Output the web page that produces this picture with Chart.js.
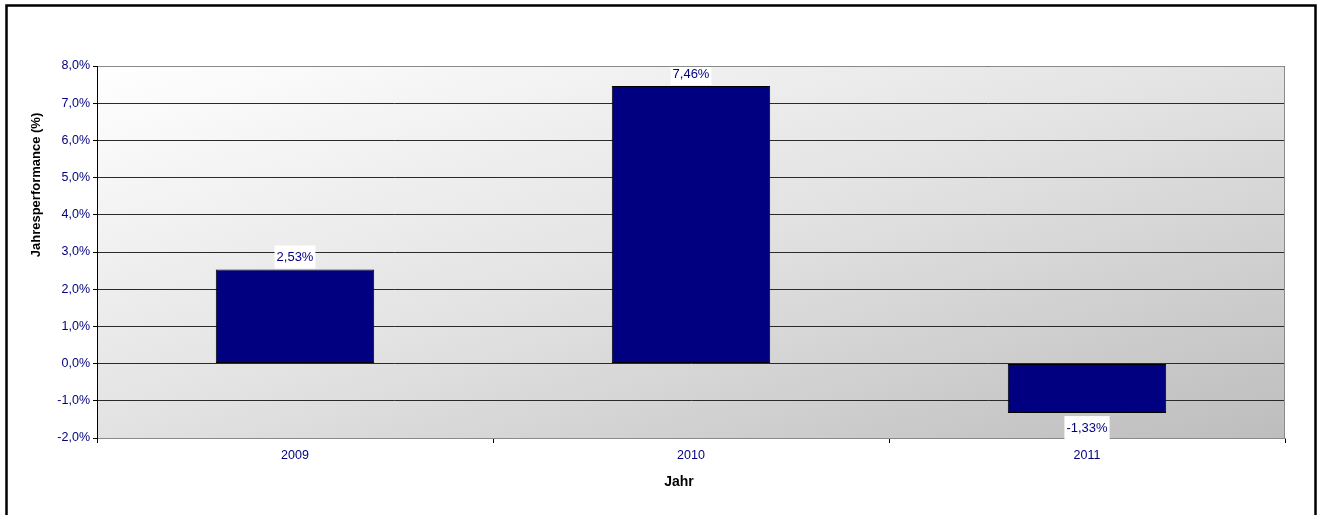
<!DOCTYPE html>
<html>
<head>
<meta charset="utf-8">
<script src="https://cdn.jsdelivr.net/npm/chart.js@4.4.1/dist/chart.umd.min.js"></script>
<style>
	html, body { margin: 0; padding: 0; background: #fff; }
	#wrap { width: 1317px; height: 515px; position: relative; }
</style>
</head>
<body>
<div id="wrap"><canvas id="perf-chart" width="1317" height="515"></canvas></div>
<script>
// Data.
var years = ["2009", "2010", "2011"];
var performance = [2.53, 7.46, -1.33];
var yTickLabels = ["-2,0%", "-1,0%", "0,0%", "1,0%", "2,0%", "3,0%", "4,0%", "5,0%", "6,0%", "7,0%", "8,0%"];
var valueLabels = ["2,53%", "7,46%", "-1,33%"];

var navy = "#000080";
var fontFamily = "Arial, 'Liberation Sans', sans-serif";

// Plot background, outline, axis titles and outer frame.
var framePlugin = {
	id: "frame",
	beforeDraw: function (chart) {
		var ctx = chart.ctx, a = chart.chartArea;
		ctx.save();
		ctx.translate(a.left, a.top);
		ctx.scale(a.right - a.left, a.bottom - a.top);
		var g = ctx.createLinearGradient(0, 0, 1, 1);
		g.addColorStop(0, "#ffffff");
		g.addColorStop(0.5, "#e2e2e2");
		g.addColorStop(1, "#bdbdbd");
		ctx.fillStyle = g;
		ctx.fillRect(0, 0, 1, 1);
		ctx.restore();
	},
	afterDraw: function (chart) {
		var ctx = chart.ctx, a = chart.chartArea;
		ctx.save();
		ctx.strokeStyle = "#8a8a8a";
		ctx.lineWidth = 1;
		ctx.beginPath();
		ctx.moveTo(a.left, a.top + 0.5);
		ctx.lineTo(a.right - 0.5, a.top + 0.5);
		ctx.lineTo(a.right - 0.5, a.bottom);
		ctx.stroke();
		// left axis line on top
		ctx.strokeStyle = "#000";
		ctx.beginPath();
		ctx.moveTo(a.left + 0.5, a.top);
		ctx.lineTo(a.left + 0.5, a.bottom);
		ctx.stroke();

		// x title
		ctx.fillStyle = "#000";
		ctx.font = "bold 14px " + fontFamily;
		ctx.textAlign = "center";
		ctx.textBaseline = "middle";
		ctx.fillText("Jahr", 679, 482);

		// y title
		ctx.font = "bold 13px " + fontFamily;
		ctx.translate(36, 185);
		ctx.rotate(-Math.PI / 2);
		ctx.fillText("Jahresperformance (%)", 0, 0);
		ctx.restore();

		// outer frame
		ctx.save();
		ctx.strokeStyle = "#000";
		ctx.lineWidth = 2.5;
		ctx.strokeRect(6.5, 5.5, 1309, 530);
		ctx.restore();
	}
};

// Value labels with white box.
var valueLabelPlugin = {
	id: "valueLabels",
	afterDatasetsDraw: function (chart) {
		var ctx = chart.ctx;
		var meta = chart.getDatasetMeta(0);
		ctx.save();
		ctx.font = "13px " + fontFamily;
		ctx.textAlign = "center";
		ctx.textBaseline = "middle";
		meta.data.forEach(function (bar, i) {
			var v = performance[i];
			var cy = v >= 0 ? bar.y - 13 : bar.y + 14;
			var txt = valueLabels[i];
			var w = ctx.measureText(txt).width + 4;
			ctx.fillStyle = "#fff";
			ctx.fillRect(bar.x - w / 2, cy - 11, w, 23);
			ctx.fillStyle = navy;
			ctx.fillText(txt, bar.x, cy + 1);
		});
		ctx.restore();
	}
};

new Chart(document.getElementById("perf-chart"), {
	type: "bar",
	data: {
		labels: years,
		datasets: [{
			label: "Jahresperformance",
			data: performance,
			backgroundColor: navy,
			borderColor: "#000",
			borderWidth: 1,
			borderSkipped: false,
			barPercentage: 0.4,
			categoryPercentage: 1.0
		}]
	},
	options: {
		responsive: false,
		animation: false,
		layout: { padding: { left: 8, top: 66, right: 32, bottom: 10 } },
		plugins: {
			legend: { display: false },
			tooltip: { enabled: false },
			title: { display: false }
		},
		scales: {
			x: {
				offset: true,
				grid: {
					offset: true,
					drawOnChartArea: false,
					drawTicks: true,
					tickLength: 5,
					tickColor: "#000"
				},
				border: { color: "#8a8a8a", width: 1 },
				ticks: {
					color: navy,
					padding: 5,
					font: { family: fontFamily, size: 12.5 }
				},
				afterFit: function (scale) { scale.height = 67; }
			},
			y: {
				min: -2,
				max: 8,
				ticks: {
					stepSize: 1,
					color: navy,
					padding: 3,
					font: { family: fontFamily, size: 12.5 },
					callback: function (value, index) { return yTickLabels[index]; }
				},
				grid: {
					color: "#2a2a2a",
					lineWidth: 1,
					drawTicks: true,
					tickLength: 4,
					tickColor: "#000"
				},
				border: { color: "#000", width: 1 },
				afterFit: function (scale) { scale.width = 89; }
			}
		}
	},
	plugins: [framePlugin, valueLabelPlugin]
});
</script>
</body>
</html>
